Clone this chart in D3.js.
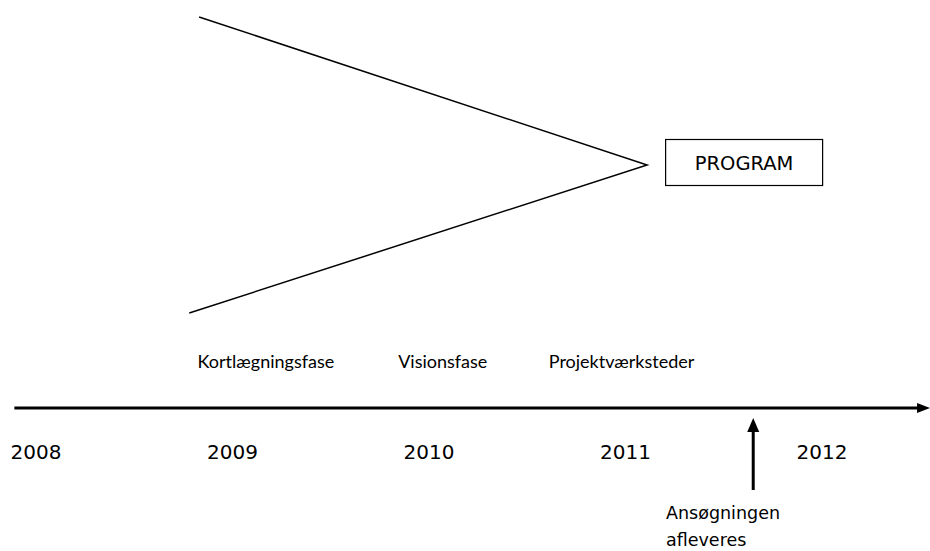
<!DOCTYPE html>
<html>
<head>
<meta charset="utf-8">
<script src="https://cdn.jsdelivr.net/npm/d3@7"></script>
<style>
  body { margin: 0; background: white; }
</style>
</head>
<body>
<div id="chart"></div>
<script>
// Timeline data
var years = [2008, 2009, 2010, 2011, 2012];
var phaseNames = ["Kortlægningsfase", "Visionsfase", "Projektværksteder"];
var phaseYears = [2009.17, 2010.07, 2010.98];
var milestoneLines = ["Ansøgningen", "afleveres"];
var milestoneYear = 2011.65;
var axisStart = 2007.89;
var axisEnd = 2012.55;

// Funnel lines converging on the program box (year, height 0..1)
var funnelYears = [2008.83, 2011.11, 2008.78];
var funnelLevels = [1, 0.5, 0];
var programLabel = "PROGRAM";

var svgWidth = 930;
var svgHeight = 551;

var svg = d3.select("#chart")
    .append("svg")
    .attr("width", svgWidth)
    .attr("height", svgHeight);

// Scales
var xScale = d3.scaleLinear()
    .domain([2008, 2012])
    .range([36, 822]);

var yFunnel = d3.scaleLinear()
    .domain([0, 1])
    .range([313, 17]);

var axisY = 408;

// Funnel lines
var funnelData = funnelYears.map((d, i) => [d, funnelLevels[i]]);
svg.append("path")
    .datum(funnelData)
    .attr("d", d3.line().x(d => xScale(d[0])).y(d => yFunnel(d[1])))
    .attr("fill", "none")
    .attr("stroke", "black")
    .attr("stroke-width", 1.5);

// Program box
var boxX = xScale(funnelYears[1]) + 18;
svg.append("rect")
    .attr("x", boxX + 0.5)
    .attr("y", 139.5)
    .attr("width", 157)
    .attr("height", 46)
    .attr("fill", "white")
    .attr("stroke", "black")
    .attr("stroke-width", 1.2);

svg.append("text")
    .attr("x", boxX + 79)
    .attr("y", 170)
    .attr("text-anchor", "middle")
    .attr("font-family", "DejaVu Sans, Verdana, sans-serif")
    .attr("font-size", "19.5px")
    .text(programLabel);

// Main time axis with arrow head
var x0 = xScale(axisStart);
var x1 = xScale(axisEnd);
svg.append("line")
    .attr("x1", x0)
    .attr("x2", x1 - 10)
    .attr("y1", axisY)
    .attr("y2", axisY)
    .attr("stroke", "black")
    .attr("stroke-width", 3);

svg.append("path")
    .attr("d", `M${x1},${axisY} L${x1 - 13},${axisY - 5} L${x1 - 13},${axisY + 5} Z`)
    .attr("fill", "black");

// Phase labels above axis
svg.selectAll(".phase")
    .data(phaseNames)
    .enter()
    .append("text")
    .attr("class", "phase")
    .attr("x", (d, i) => xScale(phaseYears[i]))
    .attr("y", 368)
    .attr("text-anchor", "middle")
    .attr("font-family", "Lato, sans-serif")
    .attr("font-size", "18px")
    .text(d => d);

// Year labels below axis
svg.selectAll(".year")
    .data(years)
    .enter()
    .append("text")
    .attr("class", "year")
    .attr("x", d => xScale(d))
    .attr("y", 459)
    .attr("text-anchor", "middle")
    .attr("font-family", "DejaVu Sans, Verdana, sans-serif")
    .attr("font-size", "20px")
    .text(d => d);

// Milestone arrow
var mx = xScale(milestoneYear);
svg.append("line")
    .attr("x1", mx)
    .attr("x2", mx)
    .attr("y1", 490)
    .attr("y2", 430)
    .attr("stroke", "black")
    .attr("stroke-width", 3);

svg.append("path")
    .attr("d", `M${mx},418 L${mx - 6},432 L${mx + 6},432 Z`)
    .attr("fill", "black");

svg.selectAll(".milestone")
    .data(milestoneLines)
    .enter()
    .append("text")
    .attr("class", "milestone")
    .attr("x", 666)
    .attr("y", (d, i) => 519 + i * 27)
    .attr("font-family", "DejaVu Sans, Verdana, sans-serif")
    .attr("font-size", "17.5px")
    .text(d => d);
</script>
</body>
</html>
